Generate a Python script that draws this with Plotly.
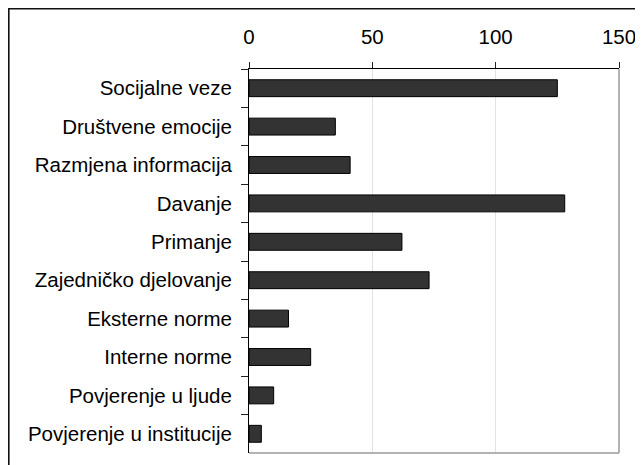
import plotly.graph_objects as go

categories = [
    "Socijalne veze",
    "Društvene emocije",
    "Razmjena informacija",
    "Davanje",
    "Primanje",
    "Zajedničko djelovanje",
    "Eksterne norme",
    "Interne norme",
    "Povjerenje u ljude",
    "Povjerenje u institucije",
]
values = [125, 35, 41, 128, 62, 73, 16, 25, 10, 5]
x_ticks = [0, 50, 100, 150]

W, H = 643, 465
ML, MR, MT, MB = 241, 32, 61, 20
PW, PH = W - ML - MR, H - MT - MB

fig = go.Figure(
    go.Bar(
        x=values,
        y=categories,
        orientation="h",
        width=0.44,
        marker=dict(color="#333333", line=dict(color="#000000", width=1)),
    )
)

FONT = "Liberation Sans, Arial, sans-serif"
FS = 20.5

fig.update_layout(
    width=W,
    height=H,
    margin=dict(l=ML, r=MR, t=MT, b=MB),
    paper_bgcolor="white",
    plot_bgcolor="white",
    showlegend=False,
    font=dict(family=FONT, size=FS, color="black"),
    xaxis=dict(
        side="top",
        range=[0, 150],
        tickvals=x_ticks,
        ticktext=[str(v) for v in x_ticks],
        ticks="outside",
        ticklen=6,
        tickcolor="#222222",
        showline=True,
        linecolor="#000000",
        linewidth=1,
        showgrid=True,
        gridcolor="#e2e2e2",
        gridwidth=1,
        zeroline=False,
        ticklabelstandoff=10,
        tickfont=dict(family=FONT, size=FS, color="black"),
    ),
    yaxis=dict(
        autorange="reversed",
        ticks="outside",
        tickson="boundaries",
        ticklen=7,
        tickcolor="#222222",
        showline=True,
        linecolor="#000000",
        linewidth=1,
        showgrid=False,
        ticklabelstandoff=12,
        tickfont=dict(family=FONT, size=FS, color="black"),
    ),
    shapes=[
        # right and bottom plot-area border (gray)
        dict(type="line", xref="paper", yref="paper", x0=1, x1=1, y0=0, y1=1,
             line=dict(color="#999999", width=1.5)),
        dict(type="line", xref="paper", yref="paper", x0=0, x1=1, y0=0, y1=0,
             line=dict(color="#999999", width=1.5)),
        # outer frame of the chart
        dict(type="rect", xref="paper", yref="paper",
             x0=(0.8 - ML) / PW, x1=(W + 20 - ML) / PW,
             y0=-(MB + 20) / PH, y1=(H - MB - 0.8) / PH,
             line=dict(color="#111111", width=1.6)),
    ],
)

fig.write_html("out.html")
